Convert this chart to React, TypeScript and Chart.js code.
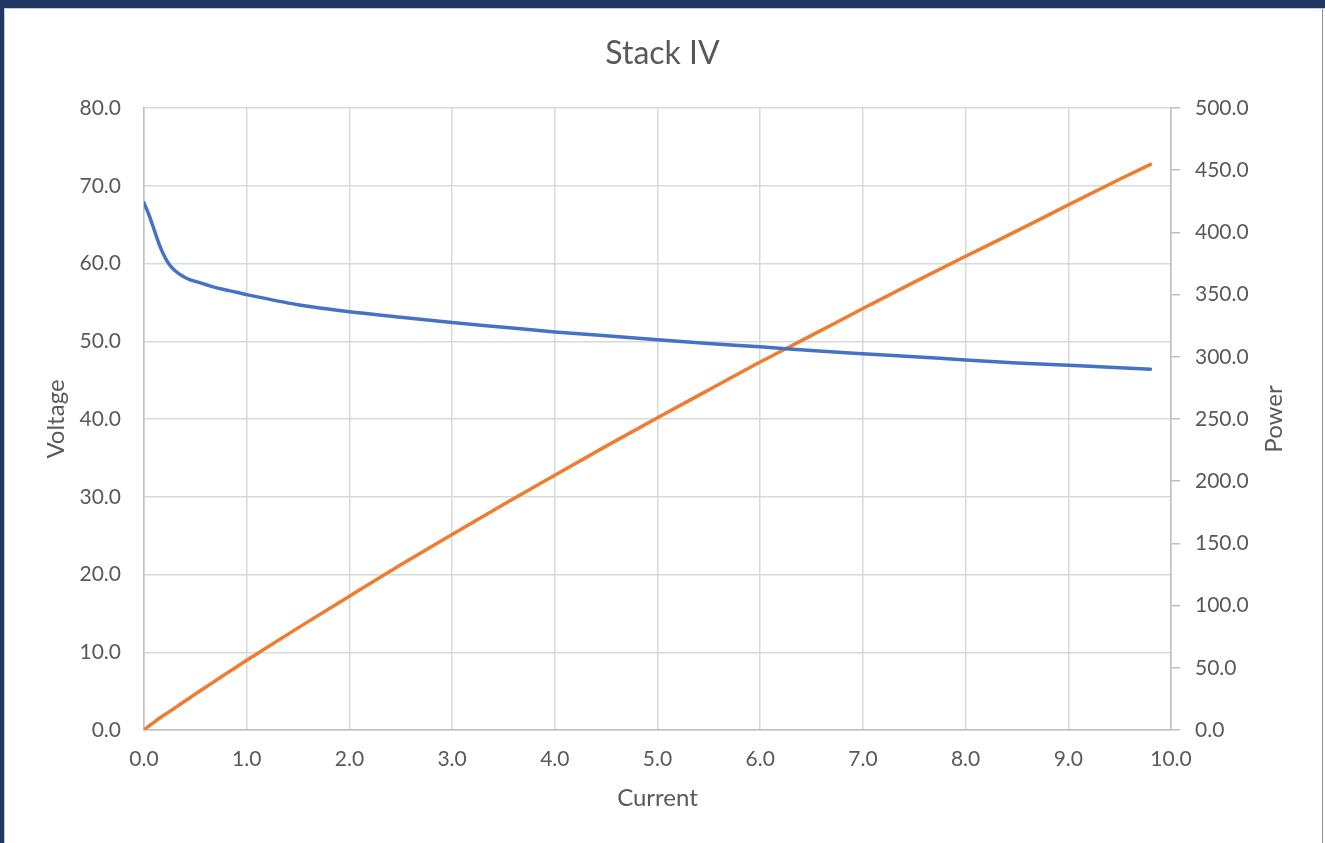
import React, { useEffect, useRef } from "react";
import { Chart, registerables } from "chart.js";

Chart.register(...registerables);

const current = [0, 0.05, 0.1, 0.15, 0.2, 0.25, 0.3, 0.35, 0.4, 0.45, 0.5, 0.6, 0.7, 0.8, 0.9, 1.0, 1.5, 2.0, 2.5, 3.0, 3.5, 4.0, 4.5, 5.0, 5.5, 6.0, 6.5, 7.0, 7.5, 8.0, 8.5, 9.0, 9.5, 9.8];
const voltage = [67.8, 66.2, 64.3, 62.4, 60.9, 59.8, 59.1, 58.6, 58.2, 57.9, 57.7, 57.3, 56.9, 56.6, 56.3, 56.0, 54.7, 53.8, 53.1, 52.4, 51.8, 51.2, 50.7, 50.2, 49.7, 49.3, 48.8, 48.4, 48.0, 47.6, 47.2, 46.9, 46.6, 46.4];
const power = [0, 3.3, 6.4, 9.4, 12.2, 15.0, 17.7, 20.5, 23.3, 26.1, 28.9, 34.4, 39.8, 45.3, 50.7, 56.0, 82.1, 107.6, 132.8, 157.2, 181.3, 204.8, 228.2, 251.0, 273.4, 295.8, 317.2, 338.8, 360.0, 380.8, 401.2, 422.1, 442.7, 454.7];

const chartTitle = "Stack IV";
const xTitle = "Current";
const yTitle = "Voltage";
const y1Title = "Power";

const TEXT = "#595959";
const FONT = "Lato";

export default function App() {
  const ref = useRef<HTMLCanvasElement | null>(null);

  useEffect(() => {
    if (!ref.current) return;
    const rightTitlePlugin = {
      id: "rightTitle",
      afterDraw(chart: any) {
        const s = chart.scales.y1;
        const ctx = chart.ctx;
        ctx.save();
        ctx.font = `24px ${FONT}`;
        ctx.fillStyle = TEXT;
        ctx.textAlign = "center";
        ctx.textBaseline = "middle";
        ctx.translate(s.right - 51, (chart.chartArea.top + chart.chartArea.bottom) / 2);
        ctx.rotate(-Math.PI / 2);
        ctx.fillText(y1Title, 0, 0);
        ctx.restore();
      },
    };
    const chart = new Chart(ref.current, {
      type: "line",
      data: {
        datasets: [
          {
            label: "Voltage",
            data: current.map((c, i) => ({ x: c, y: voltage[i] })),
            borderColor: "#4472c4",
            backgroundColor: "#4472c4",
            borderWidth: 3.5,
            pointRadius: 0,
            cubicInterpolationMode: "monotone",
            borderCapStyle: "round",
            borderJoinStyle: "round",
            yAxisID: "y",
          },
          {
            label: "Power",
            data: current.map((c, i) => ({ x: c, y: power[i] })),
            borderColor: "#ed7d31",
            backgroundColor: "#ed7d31",
            borderWidth: 3.5,
            pointRadius: 0,
            cubicInterpolationMode: "monotone",
            borderCapStyle: "round",
            borderJoinStyle: "round",
            yAxisID: "y1",
          },
        ],
      },
      options: {
        animation: false,
        responsive: false,
        layout: { padding: 0 },
        plugins: {
          legend: { display: false },
          tooltip: { enabled: false },
          title: {
            display: true,
            text: chartTitle,
            color: TEXT,
            font: { family: FONT, size: 32, weight: "normal", lineHeight: 1.2 },
            padding: { top: 34, bottom: 35.6 },
          },
        },
        scales: {
          x: {
            type: "linear",
            min: 0,
            max: 10,
            afterFit: (s: any) => { s.height = 113; },
            ticks: {
              stepSize: 1,
              color: TEXT,
              font: { family: FONT, size: 21 },
              padding: 17,
              callback: (v: any) => Number(v).toFixed(1),
            },
            grid: { color: "#d9d9d9", lineWidth: 1.5, drawTicks: false },
            border: { color: "#bfbfbf", width: 1.5 },
            title: {
              display: true,
              text: xTitle,
              color: TEXT,
              font: { family: FONT, size: 24, lineHeight: 1.2 },
              padding: { top: 0, bottom: 30.6 },
            },
          },
          y: {
            position: "left",
            min: 0,
            max: 80,
            afterFit: (s: any) => { s.width = 144; },
            ticks: {
              stepSize: 10,
              color: TEXT,
              font: { family: FONT, size: 21 },
              padding: 23,
              callback: (v: any) => Number(v).toFixed(1),
            },
            grid: { color: "#d9d9d9", lineWidth: 1.5, drawTicks: false },
            border: { color: "#bfbfbf", width: 1.5 },
            title: {
              display: true,
              text: yTitle,
              color: TEXT,
              font: { family: FONT, size: 24, lineHeight: 1.2 },
              padding: { top: 41.6, bottom: 0 },
            },
          },
          y1: {
            position: "right",
            min: 0,
            max: 500,
            afterFit: (s: any) => { s.width = 154; },
            ticks: {
              stepSize: 50,
              color: TEXT,
              font: { family: FONT, size: 21 },
              padding: 15,
              callback: (v: any) => Number(v).toFixed(1),
            },
            grid: { drawOnChartArea: false, drawTicks: true, tickLength: 9, color: "#bfbfbf", lineWidth: 1.5 },
            border: { color: "#bfbfbf", width: 1.5 },
            title: { display: false },
          },
        },
      } as any,
      plugins: [rightTitlePlugin],
    });
    return () => chart.destroy();
  }, []);

  return (
    <div style={{ position: "fixed", left: 0, top: 0, width: 1325, height: 843, background: "#1f3763", overflow: "hidden" }}>
      <div style={{ position: "absolute", left: 4, top: 8, right: 0, bottom: 0, background: "#ffffff", borderLeft: "1px solid #c8c8c8", borderTop: "1px solid #c8c8c8" }} />
      <div style={{ position: "absolute", left: 1322, top: 9, width: 1, bottom: 0, background: "#8496b0" }} />
      <canvas ref={ref} width={1325} height={843} style={{ position: "absolute", left: 0, top: 0, width: 1325, height: 843 }} />
    </div>
  );
}
